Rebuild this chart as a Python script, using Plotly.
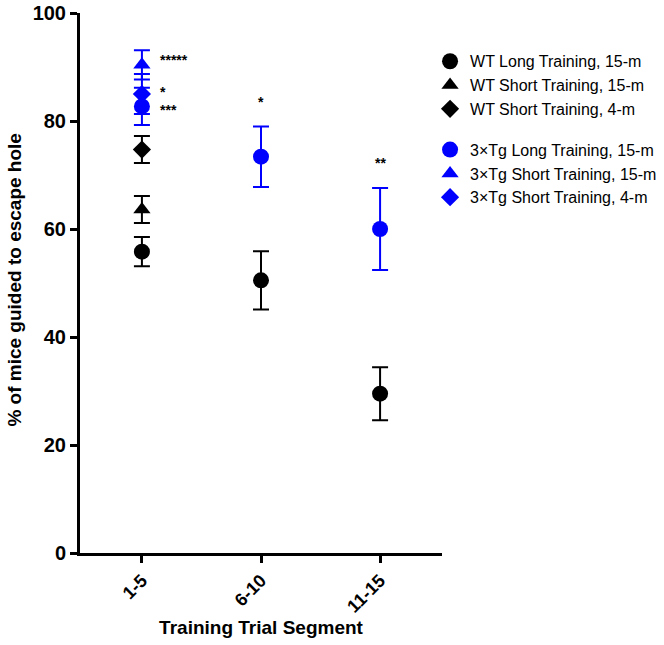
import plotly.graph_objects as go

segments = ["1-5", "6-10", "11-15"]

wt_long = [55.8, 50.5, 29.5]
wt_long_err = [2.7, 5.4, 4.9]
wt_short15 = [63.6]
wt_short15_err = [2.5]
wt_short4 = [74.7]
wt_short4_err = [2.5]

tg_long = [82.7, 73.4, 60.0]
tg_long_err = [3.45, 5.6, 7.6]
tg_short15 = [90.4]
tg_short15_err = [2.7]
tg_short4 = [85.0]
tg_short4_err = [3.7]

star_labels = ["*****", "*", "***", "*", "**"]
star_x = ["1-5", "1-5", "1-5", "6-10", "11-15"]
star_y = [91.3, 85.4, 82.0, 83.5, 72.2]
star_anchor = ["left", "left", "left", "center", "center"]

BLUE = "#0000ff"
BLACK = "#000000"
FONT = "Liberation Sans, Arial, sans-serif"

fig = go.Figure()

def add(name, x, y, err, color, symbol, size, group):
    fig.add_trace(go.Scatter(
        x=x, y=y, name=name, mode="markers",
        legendgroup=group,
        marker=dict(color=color, symbol=symbol, size=size),
        error_y=dict(type="data", array=err, visible=True, color=color,
                     thickness=2, width=8),
    ))

add("WT Long Training, 15-m", segments, wt_long, wt_long_err, BLACK, "circle", 16, "wt")
add("WT Short Training, 15-m", segments[:1], wt_short15, wt_short15_err, BLACK, "triangle-up", 15, "wt")
add("WT Short Training, 4-m", segments[:1], wt_short4, wt_short4_err, BLACK, "diamond", 14, "wt")
add("3×Tg Long Training, 15-m", segments, tg_long, tg_long_err, BLUE, "circle", 16, "tg")
add("3×Tg Short Training, 15-m", segments[:1], tg_short15, tg_short15_err, BLUE, "triangle-up", 15, "tg")
add("3×Tg Short Training, 4-m", segments[:1], tg_short4, tg_short4_err, BLUE, "diamond", 14, "tg")

for lbl, sx, sy, anc in zip(star_labels, star_x, star_y, star_anchor):
    fig.add_annotation(x=sx, y=sy, text=lbl, showarrow=False,
                       xanchor=anc, yanchor="middle",
                       xshift=16 if anc == "left" else 0,
                       font=dict(family=FONT, size=14, color=BLACK, weight="bold"))

# y-axis title placed as a rotated annotation
fig.add_annotation(xref="paper", yref="paper", x=-0.18, y=0.506,
                   text="<b>% of mice guided to escape hole</b>", textangle=-90,
                   showarrow=False, xanchor="center", yanchor="middle",
                   font=dict(family=FONT, size=19, color=BLACK))

fig.update_layout(
    width=664, height=645,
    margin=dict(l=80, r=222, t=13, b=92, autoexpand=False),
    plot_bgcolor="white", paper_bgcolor="white",
    font=dict(family=FONT, color=BLACK),
    showlegend=True,
    legend=dict(x=0.967, y=0.942, xanchor="left", yanchor="top",
                traceorder="grouped", tracegroupgap=17,
                font=dict(size=16, family=FONT),
                bgcolor="rgba(0,0,0,0)"),
    xaxis=dict(
        type="category", categoryorder="array", categoryarray=segments,
        range=[-0.52, 2.52], automargin=False,
        showline=True, linecolor=BLACK, linewidth=3,
        ticks="outside", ticklen=7, tickwidth=2.5, tickcolor=BLACK,
        tickangle=-45, showgrid=False, zeroline=False,
        tickfont=dict(size=18, family=FONT, weight="bold"),
        title=dict(text="<b>Training Trial Segment</b>", font=dict(size=19), standoff=3),
    ),
    yaxis=dict(
        range=[0, 100], tickvals=[0, 20, 40, 60, 80, 100], automargin=False,
        showline=True, linecolor=BLACK, linewidth=3,
        ticks="outside", ticklen=7, tickwidth=2.5, tickcolor=BLACK,
        showgrid=False, zeroline=False,
        tickfont=dict(size=20, family=FONT, weight="bold"),
    ),
)

fig.write_html("out.html", config={"displayModeBar": False},
               post_script="document.body.style.margin='0';")
